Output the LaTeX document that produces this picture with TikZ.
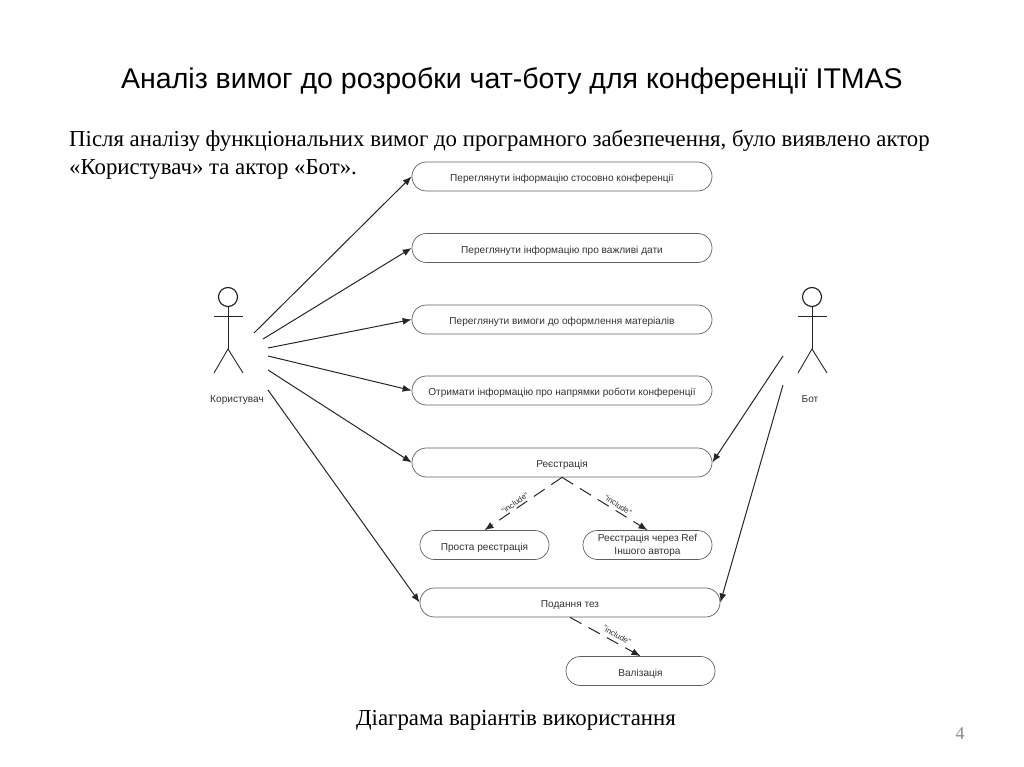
\documentclass[tikz,border=0pt]{standalone}
\usepackage{fontspec}
\setmainfont{Liberation Serif}
\setsansfont{Liberation Sans}
\usetikzlibrary{arrows.meta,positioning}
\definecolor{uclabel}{RGB}{50,50,50}
\definecolor{ucedge}{RGB}{95,95,95}
\definecolor{pagegray}{RGB}{137,137,137}
\tikzset{
  usecase/.style={draw=ucedge,line width=.7pt,rounded corners=14.4pt,minimum height=29pt,inner sep=0pt,align=center,text=uclabel,text height=10pt,text depth=0pt,font=\sffamily\fontsize{10.1}{13}\selectfont},
  actorname/.style={text=uclabel,inner sep=0pt,font=\sffamily\fontsize{10.1}{12}\selectfont},
  head/.style={draw=black!90,circle,line width=1.1pt,minimum size=19pt,inner sep=0pt},
  limb/.style={draw=black!85,line width=.9pt},
  assoc/.style={->,draw=black!85,line width=1pt},
  includes/.style={->,draw=black!85,line width=1pt,dash pattern=on 13pt off 8pt},
  inclabel/.style={text=uclabel,inner sep=0pt,font=\sffamily\fontsize{8}{9}\selectfont},
  slidetext/.style={inner sep=0pt,anchor=base west,font=\fontsize{22.8}{28}\selectfont}
}
\begin{document}
\begin{tikzpicture}[x=1pt,y=-1pt,>={Latex[length=9pt,width=7pt]}]
        \useasboundingbox (0,0) rectangle (1024,767);
        % slide texts
        \node[inner sep=0pt,font=\sffamily\fontsize{28.5}{34}\selectfont] (title) at (512,81) {Аналіз вимог до розробки чат-боту для конференції ITMAS};
        \node[slidetext] (intro1) at (69,147) {Після аналізу функціональних вимог до програмного забезпечення, було виявлено актор};
        \node[slidetext] (intro2) at (69,175) {«Користувач» та актор «Бот».};
        \node[inner sep=0pt,font=\fontsize{22.8}{28}\selectfont] (caption) at (516,720) {Діаграма варіантів використання};
        \node[inner sep=0pt,text=pagegray,font=\fontsize{18}{22}\selectfont] (pagenum) at (960,734) {4};
        % use cases
        \node[usecase,minimum width=300pt] (info) at (562,176.5) {Переглянути інформацію стосовно конференції};
        \node[usecase,minimum width=300pt] (dates) at (562,248) {Переглянути інформацію про важливі дати};
        \node[usecase,minimum width=300pt] (rules) at (562,319.5) {Переглянути вимоги до оформлення матеріалів};
        \node[usecase,minimum width=300pt] (topics) at (562,390.5) {Отримати інформацію про напрямки роботи конференції};
        \node[usecase,minimum width=300pt] (reg) at (562,462.5) {Реєстрація};
        \node[usecase,minimum width=129pt] (simple) at (484.5,545) {Проста реєстрація};
        \node[usecase,minimum width=129pt,text height=,text depth=] (viaref) at (647.5,545) {Реєстрація через Ref\\Іншого автора};
        \node[usecase,minimum width=300pt] (submit) at (570,602.5) {Подання тез};
        \node[usecase,minimum width=149pt] (valid) at (640.5,671) {Валізація};
        % actors
        \node[head] (userhead) at (228,297) {};
        \coordinate (userhip) at (228,349);
        \draw[limb] (userhead)--(userhip);
        \draw[limb] (214,316)--(243,316);
        \draw[limb] (214,373)--(userhip)--(243,373);
        \node[actorname] (username) at (237,400) {Користувач};
        \node[head] (bothead) at (812,297) {};
        \coordinate (bothip) at (812,349);
        \draw[limb] (bothead)--(bothip);
        \draw[limb] (798,316)--(827,316);
        \draw[limb] (798,373)--(bothip)--(827,373);
        \node[actorname] (botname) at (810,399) {Бот};
        % free ends beside the actors
        \coordinate (u1) at (254,333);
        \coordinate (u2) at (263,339);
        \coordinate (u3) at (268,348);
        \coordinate (u4) at (268,356);
        \coordinate (u5) at (268,370);
        \coordinate (u6) at (268,390);
        \coordinate (b1) at (783,356);
        \coordinate (b2) at (783,385);
        \draw[assoc] (u1)--(info.west);
        \draw[assoc] (u2)--(dates.west);
        \draw[assoc] (u3)--(rules.west);
        \draw[assoc] (u4)--(topics.west);
        \draw[assoc] (u5)--(reg.west);
        \draw[assoc] (u6)--(submit.west);
        \draw[assoc] (b1)--(reg.east);
        \draw[assoc] (b2)--(submit.east);
        % include links
        \draw[includes] (reg.south)--(simple.north);
        \draw[includes] (reg.south)--(viaref.north);
        \draw[includes] (submit.south)--(valid.north);
        \node[inclabel,rotate=35] (inc1) at (515,503) {"include"};
        \node[inclabel,rotate=-33] (inc2) at (618,505) {"include"};
        \node[inclabel,rotate=-30] (inc3) at (617,635) {"include"};
\end{tikzpicture}
\end{document}
